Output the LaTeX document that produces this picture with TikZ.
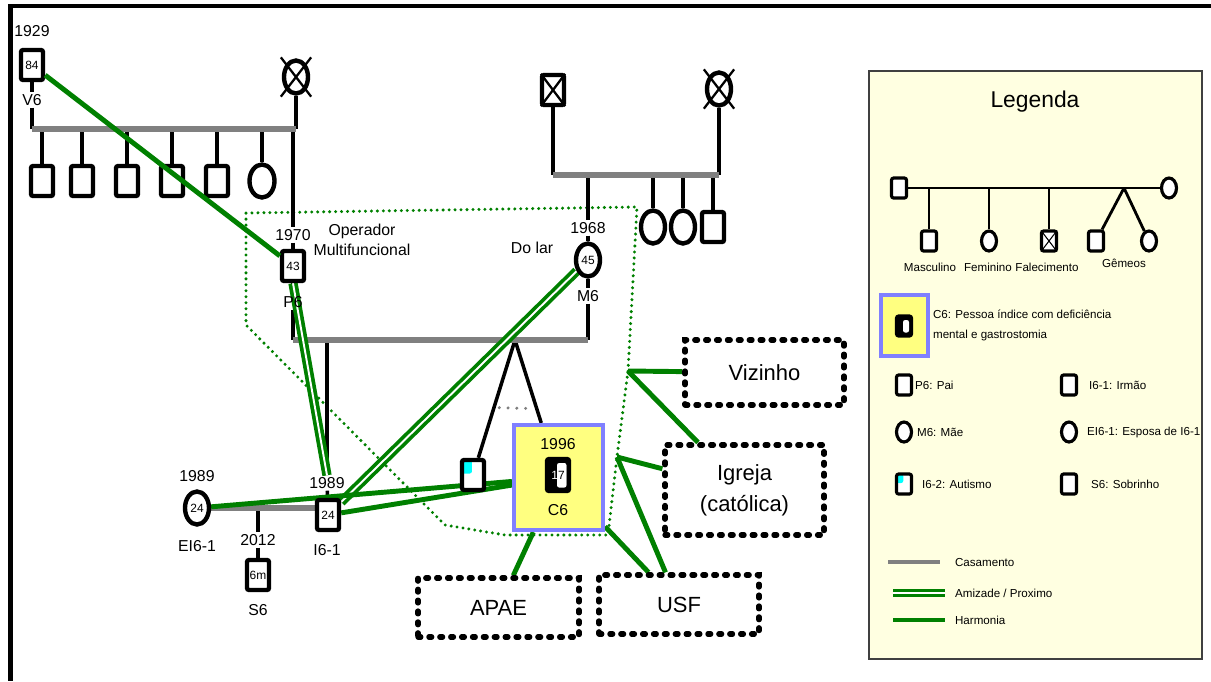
\documentclass[tikz,border=0pt]{standalone}
\usepackage{fontspec}
\setmainfont{Liberation Sans}
\usepackage{xcolor}
\usepackage{tikz}
\usetikzlibrary{shapes,arrows.meta,positioning,calc,backgrounds}

\definecolor{linkgreen}{RGB}{0,128,0}
\definecolor{marrgray}{RGB}{128,128,128}
\definecolor{idxyellow}{RGB}{255,255,128}
\definecolor{idxblue}{RGB}{128,128,255}
\definecolor{legfill}{RGB}{255,255,225}
\definecolor{autcyan}{RGB}{0,255,255}

\begin{document}
\begin{tikzpicture}[
    x=0.02cm, y=-0.02cm,
    male/.style={rectangle, draw, fill=white, line width=2.5pt, rounded corners=1.2pt, inner sep=0pt, minimum width=0.44cm, minimum height=0.6cm, font=\fontsize{6.8}{8}\selectfont},
    female/.style={ellipse, draw, fill=white, line width=2.5pt, inner sep=0pt, minimum width=0.48cm, minimum height=0.66cm, font=\fontsize{6.8}{8}\selectfont},
    dead/.style={cross out, draw, line width=1.3pt, inner sep=0pt},
    autism/.style={male, path picture={\fill [autcyan] (path picture bounding box.north west) rectangle ($(path picture bounding box.north west)!0.9!(path picture bounding box.center)$);}},
    index/.style={male, fill=black, path picture={\fill [white] ([xshift=-0.02cm, yshift=-0.08cm]path picture bounding box.north) rectangle ([xshift=-0.05cm, yshift=0.07cm]path picture bounding box.south east);}},
    lsize/.style={line width=1.8pt, minimum width=0.3cm, minimum height=0.4cm},
    lmale/.style={male, lsize},
    lfemale/.style={female, lsize},
    lautism/.style={autism, lsize},
    highlight/.style={rectangle, draw=idxblue, fill=idxyellow, line width=2.4pt},
    lbl/.style={inner sep=1pt, font=\fontsize{9}{10}\selectfont},
    note/.style={inner sep=1pt, align=center, font=\fontsize{9}{11.5}\selectfont},
    service/.style={rectangle, draw, fill=white, line width=3pt, line cap=round, dash pattern=on 1.6pt off 4.6pt, align=center, inner sep=0pt, font=\fontsize{12.5}{17.5}\selectfont},
    marriage/.style={draw=marrgray, line width=3pt},
    child/.style={draw, line width=2pt},
    harmonia/.style={draw=linkgreen, line width=2.8pt},
    amizade/.style={draw=linkgreen, line width=2.1pt, double=white, double distance=1.1pt},
    household/.style={draw=linkgreen, line width=1.9pt, line cap=round, dash pattern=on 0pt off 3.4pt},
    twinlink/.style={draw=marrgray, line width=1.9pt, line cap=round, dash pattern=on 0pt off 5pt},
    legendbox/.style={rectangle, draw=black!75, fill=legfill, line width=1pt},
    legtext/.style={inner sep=1pt, font=\fontsize{6.6}{11.3}\selectfont}
]
    \useasboundingbox (0,0) rectangle (1211,681);

    % grandparents, father's side
    \node [lbl] (v6yr) at (32,31) {1929};
    \node [male] (v6) at (32,65) {84};
    \node [lbl] (v6lbl) at (32,100) {V6};
    \node [female] (gm1) at (296,77) {};
    \node [dead, minimum width=0.56cm, minimum height=0.74cm] (gm1x) at (296,77) {};
    \coordinate (b1) at (0,129);
    \foreach \i/\x in {1/42,2/82,3/127,4/172,5/217}
        \node [male] (k\i) at (\x,181) {};
    \node [female, minimum width=0.5cm] (k6) at (262,181) {};

    % grandparents, mother's side
    \node [male] (gf2) at (553,90) {};
    \node [dead, minimum width=0.44cm, minimum height=0.6cm] (gf2x) at (553,90) {};
    \node [female] (gm2) at (719,89) {};
    \node [dead, minimum width=0.56cm, minimum height=0.74cm] (gm2x) at (719,89) {};
    \coordinate (b2) at (0,175);
    \node [female] (a1) at (653,227) {};
    \node [female] (a2) at (683,227) {};
    \node [male] (a3) at (713,227) {};

    % parents
    \node [lbl] (p6yr) at (293,235) {1970};
    \node [male] (p6) at (293,266) {43};
    \node [lbl] (p6lbl) at (293,302) {P6};
    \node [note] (p6job) at (362,240) {Operador\\Multifuncional};
    \node [lbl] (m6yr) at (588,228) {1968};
    \node [female] (m6) at (588,260) {45};
    \node [lbl] (m6lbl) at (588,296) {M6};
    \node [note] (m6job) at (532,248) {Do lar};
    \coordinate (b3) at (0,340);
    \coordinate (tw) at (515,340);

    % children
    \node [lbl] (i61yr) at (327,483) {1989};
    \node [male] (i61) at (328,515) {24};
    \node [lbl] (i61lbl) at (327,550) {I6-1};
    \node [autism] (i62) at (473,475) {};
    \node [highlight, minimum width=1.78cm, minimum height=2.1cm] (c6box) at (558.5,477.5) {};
    \node [lbl] (c6yr) at (558,444) {1996};
    \node [index, minimum height=0.64cm] (c6) at (558,475) {{\color{white}1}7};
    \node [lbl] (c6lbl) at (558,510) {C6};
    \node [lbl] (ei61yr) at (197,476) {1989};
    \node [female] (ei61) at (197,508) {24};
    \node [lbl] (ei61lbl) at (197,546) {EI6-1};
    \coordinate (b4) at (0,508);
    \node [lbl] (s6yr) at (258,540) {2012};
    \node [male] (s6) at (258,575) {6m};
    \node [lbl] (s6lbl) at (258,610) {S6};

    % network
    \node [service, minimum width=3.18cm, minimum height=1.3cm] (viz) at (764.5,372.5) {Vizinho};
    \node [service, minimum width=3.18cm, minimum height=1.8cm] (igreja) at (744.5,490) {Igreja\\(católica)};
    \node [service, minimum width=3.22cm, minimum height=1.18cm] (apae) at (498.5,607.5) {APAE};
    \node [service, minimum width=3.2cm, minimum height=1.18cm] (usf) at (679,604.5) {USF};
    \coordinate (hv) at (628,371);
    \coordinate (hi) at (617,457);

    % legend
    \node [font=\fontsize{13}{15}\selectfont] (legtitle) at (1035,102) {Legenda};
    \node [lmale] (lm0) at (899,188) {};
    \node [lfemale] (lf0) at (1169,188) {};
    \node [lmale] (lc1) at (929,241) {};
    \node [lfemale] (lc2) at (989,241) {};
    \node [lmale] (lc3) at (1049,241) {};
    \node [dead, line width=0.6pt, minimum width=0.3cm, minimum height=0.4cm] (lc3x) at (1049,241) {};
    \node [lmale] (lc4) at (1096,241) {};
    \node [lfemale] (lc5) at (1149,241) {};
    \coordinate (ltw) at (1124,188);
    \node [legtext] (lt1) at (930,267) {Masculino};
    \node [legtext] (lt2) at (988,267) {Feminino};
    \node [legtext] (lt3) at (1047,267) {Falecimento};
    \node [legtext] (lt4) at (1124,263) {Gêmeos};
    \node [highlight, line width=2.2pt, minimum width=0.94cm, minimum height=1.22cm] (lc6box) at (904.5,325.5) {};
    \node [index, lsize] (lc6) at (904,326) {};
    \node [legtext, anchor=west, align=left] (lc6txt) at (931,325) {C6: Pessoa índice com deficiência\\mental e gastrostomia};
    \node [lmale] (lp6) at (904,385) {};
    \node [legtext, anchor=west] (lp6txt) at (913,385) {P6: Pai};
    \node [lmale] (li61) at (1069,385) {};
    \node [legtext, anchor=west] (li61txt) at (1087,385) {I6-1: Irmão};
    \node [lfemale] (lm6) at (904,432) {};
    \node [legtext, anchor=west] (lm6txt) at (915,432) {M6: Mãe};
    \node [lfemale] (lei61) at (1069,432) {};
    \node [legtext, anchor=west] (lei61txt) at (1085,432) {EI6-1: Esposa de I6-1};
    \node [lautism] (li62) at (904,484) {};
    \node [legtext, anchor=west] (li62txt) at (920,484) {I6-2: Autismo};
    \node [lmale] (ls6) at (1069,484) {};
    \node [legtext, anchor=west] (ls6txt) at (1089,484) {S6: Sobrinho};
    \coordinate (lcasA) at (888,562);
    \coordinate (lcasB) at (940,562);
    \coordinate (lamiA) at (893,593);
    \coordinate (lamiB) at (945,593);
    \coordinate (lharA) at (893,620);
    \coordinate (lharB) at (945,620);
    \node [legtext, anchor=west] (lcastxt) at (953,562) {Casamento};
    \node [legtext, anchor=west] (lamitxt) at (953,593) {Amizade / Proximo};
    \node [legtext, anchor=west] (lhartxt) at (953,620) {Harmonia};

    \begin{scope}[on background layer]
        \node [legendbox, minimum width=6.66cm, minimum height=11.76cm] (legend) at (1035.5,365) {};
        \draw [household] (246,213) -- (637,207) -- (hv) -- (hi) -- (608,535) -- (505,535) -- (445,525) -- (430,510) -- (246,325) -- cycle;

        \draw [child] (v6) -- (v6lbl);
        \draw [child] (v6lbl) -- (v6lbl |- b1);
        \draw [child] (gm1) -- (gm1 |- b1);
        \foreach \i in {1,...,6}
            \draw [child] (k\i |- b1) -- (k\i);
        \draw [child] (p6yr |- b1) -- (p6yr);
        \draw [child] (p6yr) -- (p6);
        \draw [child] (gf2) -- (gf2 |- b2);
        \draw [child] (gm2) -- (gm2 |- b2);
        \foreach \i in {1,2,3}
            \draw [child] (a\i |- b2) -- (a\i);
        \draw [child] (m6yr |- b2) -- (m6yr);
        \draw [child] (m6yr) -- (m6);
        \draw [child] (p6) -- (p6lbl);
        \draw [child] (p6lbl) -- (p6lbl |- b3);
        \draw [child] (m6) -- (m6lbl);
        \draw [child] (m6lbl) -- (m6lbl |- b3);
        \draw [child] (i61yr |- b3) -- (i61yr);
        \draw [child] (i61yr) -- (i61);
        \draw [child] (tw) -- (i62);
        \draw [child] (tw) -- (c6box);
        \draw [twinlink, shorten <=3pt, shorten >=3pt] ($(tw)!0.5!(i62)$) -- ($(tw)!0.5!(c6box)$);
        \draw [child] (s6yr |- b4) -- (s6yr);
        \draw [child] (s6yr) -- (s6);

        \draw [marriage] (v6lbl |- b1) -- (gm1 |- b1);
        \draw [marriage] (gf2 |- b2) -- (gm2 |- b2);
        \draw [marriage] (p6lbl |- b3) -- (m6lbl |- b3);
        \draw [marriage] (ei61) -- (ei61 -| i61);

        \draw [amizade] (p6.south) -- (i61yr.north);
        \draw [amizade] (m6) -- (i61);
        \draw [harmonia] (ei61) -- (c6box);
        \draw [harmonia] (i61) -- (c6box);
        \draw [harmonia] (c6box) -- (apae);
        \draw [harmonia] (c6box) -- (usf);
        \draw [harmonia] (hv) -- (viz);
        \draw [harmonia] (hv) -- (igreja);
        \draw [harmonia] (hi) -- (igreja);
        \draw [harmonia] (hi) -- (usf);

        \draw [child, line width=1.6pt] (lm0) -- (lf0);
        \foreach \i in {1,2,3}
            \draw [child, line width=1.6pt] (lc\i |- lm0) -- (lc\i);
        \draw [child, line width=1.6pt] (ltw) -- (lc4);
        \draw [child, line width=1.6pt] (ltw) -- (lc5);
        \draw [marriage, line width=2.2pt] (lcasA) -- (lcasB);
        \draw [amizade, line width=1.6pt] (lamiA) -- (lamiB);
        \draw [harmonia, line width=1.9pt] (lharA) -- (lharB);
    \end{scope}

    \draw [harmonia] (v6) -- (p6);
    \draw [line width=2.6pt] (1211,6) -- (10.5,6) -- (10.5,681);
\end{tikzpicture}
\end{document}
